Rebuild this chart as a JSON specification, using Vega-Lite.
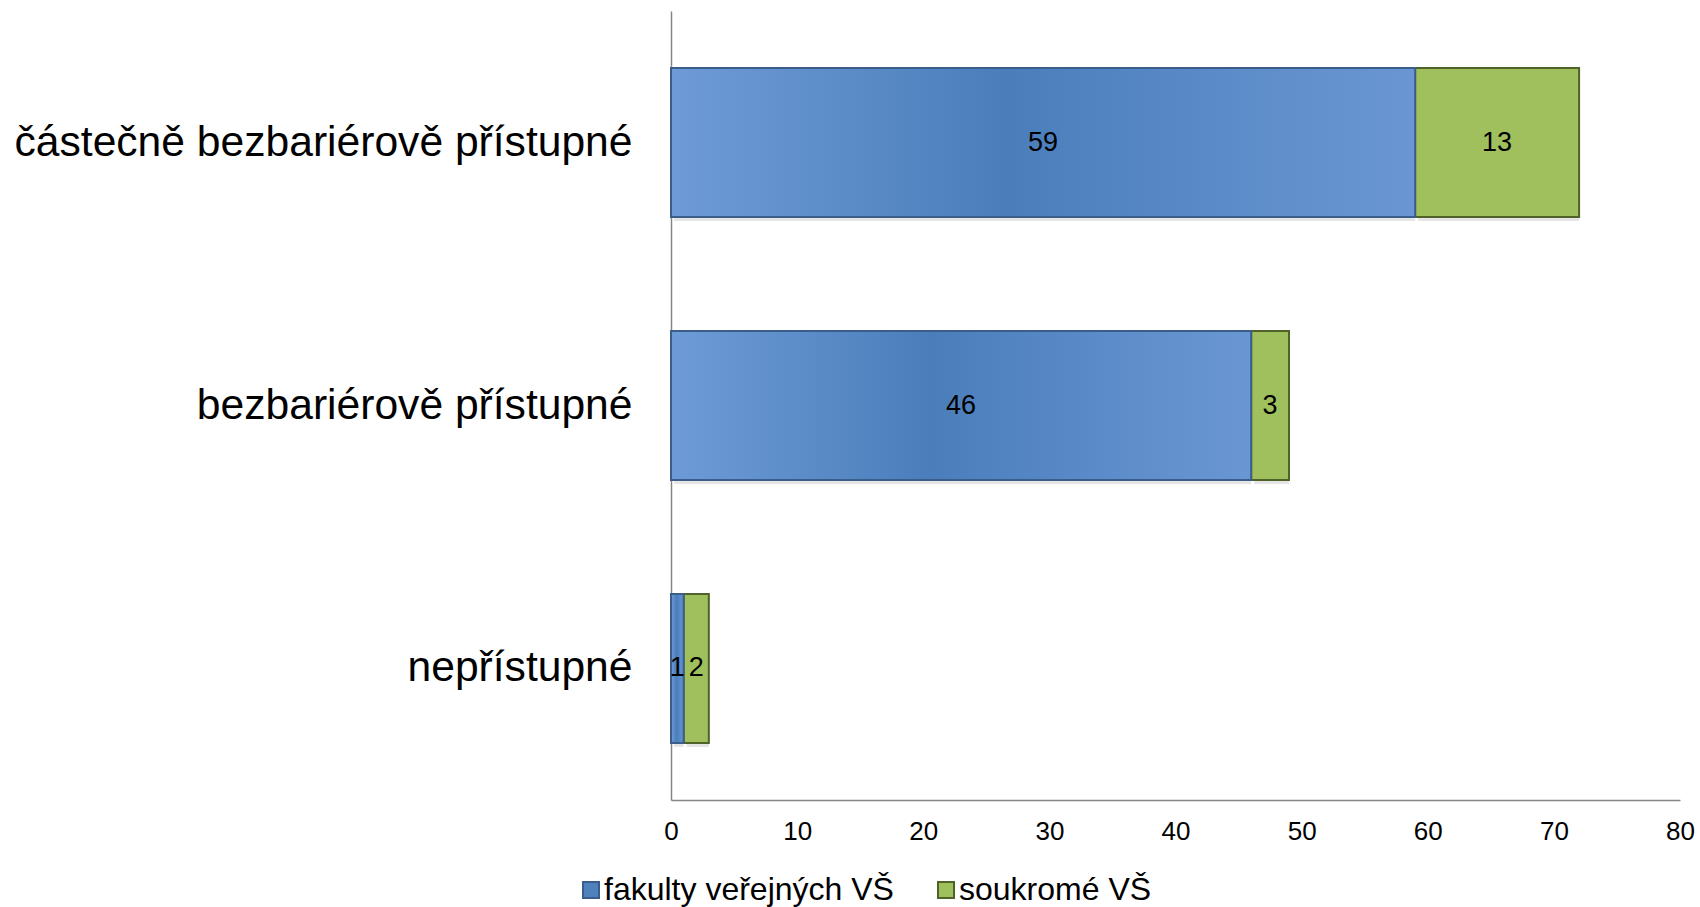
{
  "$schema": "https://vega.github.io/schema/vega-lite/v6.json",
  "width": 1009,
  "height": 789,
  "autosize": "none",
  "padding": {"left": 671, "top": 11, "right": 20, "bottom": 107},
  "background": "white",
  "config": {"font": "Liberation Sans", "view": {"stroke": null}, "axis": {"grid": false}},
  "data": {
    "values": [
      {"category": "částečně bezbariérově přístupné", "series": "fakulty veřejných VŠ", "order": 1, "value": 59},
      {"category": "částečně bezbariérově přístupné", "series": "soukromé VŠ", "order": 2, "value": 13},
      {"category": "bezbariérově přístupné", "series": "fakulty veřejných VŠ", "order": 1, "value": 46},
      {"category": "bezbariérově přístupné", "series": "soukromé VŠ", "order": 2, "value": 3},
      {"category": "nepřístupné", "series": "fakulty veřejných VŠ", "order": 1, "value": 1},
      {"category": "nepřístupné", "series": "soukromé VŠ", "order": 2, "value": 2}
    ]
  },
  "transform": [
    {"stack": "value", "groupby": ["category"], "sort": [{"field": "order", "order": "ascending"}], "as": ["v0", "v1"]}
  ],
  "encoding": {
    "y": {
      "field": "category",
      "type": "nominal",
      "sort": ["částečně bezbariérově přístupné", "bezbariérově přístupné", "nepřístupné"],
      "scale": {"paddingInner": 0.433, "paddingOuter": 0.217},
      "axis": {
        "title": null,
        "domainColor": "#868686",
        "domainWidth": 1.5,
        "ticks": false,
        "labelFontSize": 42.6,
        "labelColor": "#000000",
        "labelPadding": 39,
        "labelLimit": 800
      }
    }
  },
  "layer": [
    {
      "mark": {"type": "bar", "fill": "#000000", "opacity": 0.1, "xOffset": 3, "yOffset": 4},
      "encoding": {
        "x": {"field": "v0", "type": "quantitative", "scale": {"domain": [0, 80], "nice": false},
          "axis": {
            "title": null,
            "values": [0, 10, 20, 30, 40, 50, 60, 70, 80],
            "domainColor": "#868686",
            "domainWidth": 1.5,
            "ticks": false,
            "labelFontSize": 26,
            "labelColor": "#000000",
            "labelPadding": 18,
            "labelFlush": false
          }},
        "x2": {"field": "v1"}
      }
    },
    {
      "mark": {"type": "bar", "strokeWidth": 2},
      "encoding": {
        "x": {"field": "v0", "type": "quantitative"},
        "x2": {"field": "v1"},
        "fill": {
          "field": "series",
          "type": "nominal",
          "scale": {"domain": ["fakulty veřejných VŠ", "soukromé VŠ"], "range": ["#4F81BD", "#9FC05D"]},
          "legend": {
            "orient": "none",
            "legendX": -96,
            "legendY": 863,
            "direction": "horizontal",
            "title": null,
            "labelFontSize": 32,
            "labelColor": "#000000",
            "symbolType": "square",
            "symbolSize": 256,
            "symbolStrokeWidth": 2,
            "labelOffset": -3,
            "columnPadding": 36,
            "labelLimit": 500
          }
        },
        "stroke": {
          "field": "series",
          "type": "nominal",
          "scale": {"domain": ["fakulty veřejných VŠ", "soukromé VŠ"], "range": ["#3A5D8C", "#4F6228"]},
          "legend": {
            "orient": "none",
            "legendX": -96,
            "legendY": 863,
            "direction": "horizontal",
            "title": null,
            "labelFontSize": 32,
            "labelColor": "#000000",
            "symbolType": "square",
            "symbolSize": 256,
            "symbolStrokeWidth": 2,
            "labelOffset": -3,
            "columnPadding": 36,
            "labelLimit": 500
          }
        }
      }
    },
    {
      "transform": [{"filter": "datum.series === 'fakulty veřejných VŠ'"}],
      "mark": {
        "type": "bar",
        "stroke": "#3A5D8C",
        "strokeWidth": 2,
        "fill": {
          "gradient": "linear",
          "x1": 0, "y1": 0, "x2": 1, "y2": 0,
          "stops": [
            {"offset": 0, "color": "#6E9BD7"},
            {"offset": 0.45, "color": "#4A7EBB"},
            {"offset": 1, "color": "#6A97D4"}
          ]
        }
      },
      "encoding": {
        "x": {"field": "v0", "type": "quantitative"},
        "x2": {"field": "v1"}
      }
    },
    {
      "transform": [{"fold": ["v0", "v1"], "as": ["edge", "pos"]}],
      "mark": {"type": "text", "fontSize": 27, "color": "#000000"},
      "encoding": {
        "x": {"field": "pos", "type": "quantitative", "aggregate": "mean"},
        "detail": {"field": "series"},
        "text": {"field": "value", "type": "quantitative", "aggregate": "max"}
      }
    }
  ]
}
